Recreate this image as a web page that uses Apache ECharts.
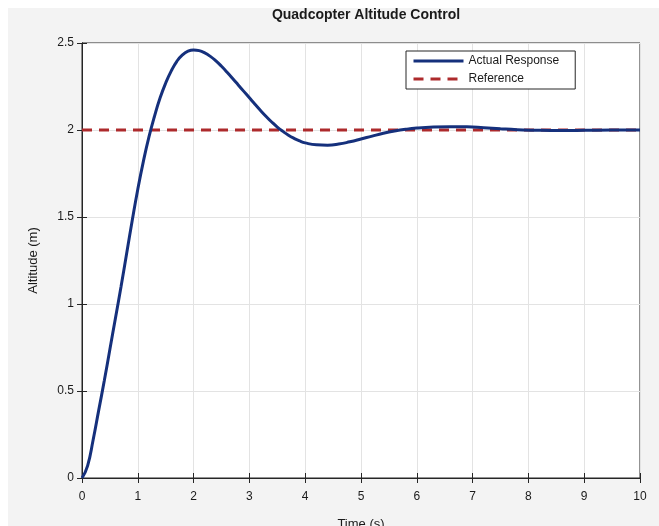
<!DOCTYPE html>
<html>
<head>
<meta charset="utf-8">
<script src="https://cdn.jsdelivr.net/npm/echarts@6/dist/echarts.min.js"></script>
<style>
html,body{margin:0;padding:0;background:#ffffff;}
#bg{position:absolute;left:8px;top:8px;width:651px;height:518px;background:#f3f3f3;}
#chart{position:absolute;left:0;top:0;width:659px;height:526px;}
</style>
</head>
<body>
<div id="bg"></div>
<div id="chart"></div>
<script>
const titleText = 'Quadcopter Altitude Control';
const xName = 'Time (s)';
const yName = 'Altitude (m)';
const seriesNames = ['Actual Response', 'Reference'];
const timeS = [0,0.1,0.2,0.3,0.4,0.5,0.6,0.7,0.8,0.9,1.0,1.1,1.2,1.3,1.4,1.5,1.6,1.7,1.8,1.9,2.0,2.1,2.2,2.3,2.4,2.5,2.6,2.7,2.8,2.9,3.0,3.1,3.2,3.3,3.4,3.5,3.6,3.7,3.8,3.9,4.0,4.2,4.4,4.6,4.8,5.0,5.2,5.4,5.6,5.8,6.0,6.3,6.6,6.9,7.2,7.5,7.8,8.2,8.6,9.0,9.5,10];
const altitude = [0,0.07,0.22,0.39,0.56,0.74,0.92,1.10,1.29,1.48,1.66,1.82,1.96,2.08,2.185,2.27,2.34,2.395,2.432,2.453,2.46,2.456,2.443,2.423,2.397,2.366,2.332,2.296,2.259,2.222,2.185,2.148,2.112,2.078,2.046,2.017,1.992,1.970,1.952,1.937,1.926,1.915,1.913,1.919,1.932,1.948,1.965,1.981,1.994,2.004,2.011,2.017,2.019,2.018,2.013,2.007,2.002,1.998,1.997,1.998,2.0,2.0];
const refTime = [0, 10];
const refAltitude = [2, 2];

const chart = echarts.init(document.getElementById('chart'));
const axisColor = '#262626';
const font = 'Liberation Sans, Arial, sans-serif';
chart.setOption({
  animation: false,
  backgroundColor: 'transparent',
  title: {
    text: titleText, left: 361, top: 3, textAlign: 'center',
    textStyle: {fontFamily: font, fontSize: 14, fontWeight: 'bold', color: '#1a1a1a'}
  },
  grid: {left: 82, right: 19, top: 43, bottom: 48, containLabel: false, outerBoundsMode: 'none',
    show: true, backgroundColor: '#ffffff', borderColor: axisColor, borderWidth: 1},
  legend: {
    orient: 'vertical', left: 406, top: 51,
    backgroundColor: '#ffffff', borderColor: axisColor, borderWidth: 1,
    padding: [4, 16, 4, 6], itemGap: 6, itemWidth: 50, itemHeight: 10,
    itemStyle: {opacity: 0},
    lineStyle: {width: 3},
    textStyle: {fontFamily: font, fontSize: 12, color: '#1a1a1a'},
    data: seriesNames
  },
  xAxis: [{
    type: 'value', min: 0, max: 10, interval: 1,
    name: xName, nameLocation: 'middle', nameGap: 40,
    nameTextStyle: {fontFamily: font, fontSize: 13, color: '#1a1a1a'},
    axisLine: {show: true, onZero: false, lineStyle: {color: axisColor}},
    axisTick: {show: true, inside: true, length: 5, lineStyle: {color: axisColor}},
    axisLabel: {fontFamily: font, fontSize: 12, color: '#1a1a1a', margin: 13},
    splitLine: {show: true, lineStyle: {color: '#e3e3e3'}}
  }, {
    type: 'value', min: 0, max: 10, interval: 1, position: 'top',
    axisLine: {show: true, lineStyle: {color: axisColor}},
    axisTick: {show: true, inside: true, length: 5, lineStyle: {color: axisColor}},
    axisLabel: {show: false}, splitLine: {show: false}
  }],
  yAxis: [{
    type: 'value', min: 0, max: 2.5, interval: 0.5,
    name: yName, nameLocation: 'middle', nameGap: 42,
    nameTextStyle: {fontFamily: font, fontSize: 13, color: '#1a1a1a'},
    axisLine: {show: true, onZero: false, lineStyle: {color: axisColor}},
    axisTick: {show: true, inside: true, length: 5, lineStyle: {color: axisColor}},
    axisLabel: {fontFamily: font, fontSize: 12, color: '#1a1a1a', margin: 8},
    splitLine: {show: true, lineStyle: {color: '#e3e3e3'}}
  }, {
    type: 'value', min: 0, max: 2.5, interval: 0.5, position: 'right',
    axisLine: {show: true, lineStyle: {color: axisColor}},
    axisTick: {show: true, inside: true, length: 5, lineStyle: {color: axisColor}},
    axisLabel: {show: false}, splitLine: {show: false}
  }],
  series: [{
    name: seriesNames[0], type: 'line', smooth: true, showSymbol: false, symbol: 'none',
    data: timeS.map((t, i) => [t, altitude[i]]),
    lineStyle: {color: '#15307c', width: 3},
    itemStyle: {color: '#15307c'}, z: 3
  }, {
    name: seriesNames[1], type: 'line', showSymbol: false, symbol: 'none',
    data: refTime.map((t, i) => [t, refAltitude[i]]),
    lineStyle: {color: '#ad2a2c', width: 3, type: [10, 7]},
    itemStyle: {color: '#ad2a2c'}, z: 2
  }]
});
</script>
</body>
</html>
